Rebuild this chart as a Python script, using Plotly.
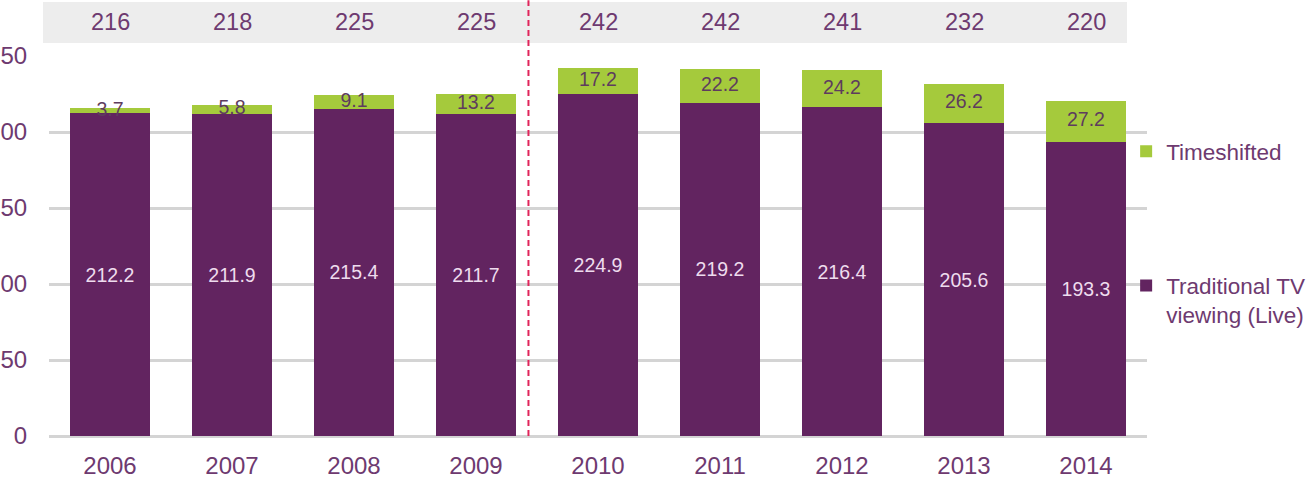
import plotly.graph_objects as go

years = ["2006", "2007", "2008", "2009", "2010", "2011", "2012", "2013", "2014"]
live = [212.2, 211.9, 215.4, 211.7, 224.9, 219.2, 216.4, 205.6, 193.3]
timeshifted = [3.7, 5.8, 9.1, 13.2, 17.2, 22.2, 24.2, 26.2, 27.2]
totals = [216, 218, 225, 225, 242, 242, 241, 232, 220]
y_ticks = [0, 50, 100, 150, 200, 250]

PURPLE = "#622460"
GREEN = "#A5CA3C"
TXT = "#6E3A70"
FONT = "Liberation Sans, Arial, sans-serif"

fig = go.Figure()
fig.add_trace(go.Bar(
    x=years, y=live, name="Traditional TV<br>viewing (Live)",
    marker=dict(color=PURPLE, line=dict(width=0)),
    text=[f"{v:.1f}" for v in live], textposition="inside",
    insidetextanchor="middle", textangle=0,
    textfont=dict(size=19.5, color="#EEDCEE", family=FONT),
    legendgroup="live", legendrank=2,
))
fig.add_trace(go.Bar(
    x=years, y=timeshifted, name="Timeshifted",
    marker=dict(color=GREEN, line=dict(width=0)),
    legendgroup="ts", legendrank=1,
))
fig.add_trace(go.Scatter(
    x=years, y=[l + t / 2 for l, t in zip(live, timeshifted)],
    mode="text", text=[f"{v:.1f}" for v in timeshifted],
    textposition="middle center",
    textfont=dict(size=19.5, color="#5E3C5E", family=FONT),
    showlegend=False, cliponaxis=False, hoverinfo="skip",
))

# totals row
for i, tot in enumerate(totals):
    fig.add_annotation(x=i, y=1.0895, xref="x", yref="paper", text=str(tot),
                       showarrow=False, yanchor="middle",
                       font=dict(size=23.5, color=TXT, family=FONT))

fig.update_layout(
    width=1314, height=481,
    margin=dict(l=49, r=167, t=56, b=45, autoexpand=False),
    barmode="stack", bargap=0.344,
    plot_bgcolor="white", paper_bgcolor="white",
    font=dict(family=FONT, color=TXT, size=23),
    showlegend=True,
    legend=dict(x=0.981, xanchor="left", y=0.805, yanchor="top",
                traceorder="grouped", tracegroupgap=102,
                valign="top", bgcolor="rgba(0,0,0,0)",
                font=dict(size=22.5, color=TXT, family=FONT)),
    shapes=[
        dict(type="rect", xref="paper", yref="paper", x0=-0.0055, x1=0.9818,
             y0=1.034, y1=1.142, fillcolor="#EDEDED", line=dict(width=0), layer="below"),
        dict(type="line", xref="x", yref="paper", x0=3.43, x1=3.43, y0=0, y1=1.147,
             line=dict(color="#E0245A", width=2, dash="6px,4px")),
    ],
)
fig.update_xaxes(type="category", range=[-0.5, len(years) - 0.5], showgrid=False,
                 automargin=False,
                 showline=False, ticks="outside", ticklen=8, tickcolor="rgba(0,0,0,0)",
                 tickfont=dict(size=24, color=TXT, family=FONT))
fig.update_yaxes(range=[0, 250], tickvals=y_ticks, showgrid=True, gridcolor="#D4D4D4",
                 automargin=False,
                 gridwidth=3, zeroline=True, zerolinecolor="#D4D4D4", zerolinewidth=3,
                 showline=False, ticks="outside", ticklen=16, tickcolor="rgba(0,0,0,0)",
                 tickfont=dict(size=24, color=TXT, family=FONT))

fig.write_html("out.html")
